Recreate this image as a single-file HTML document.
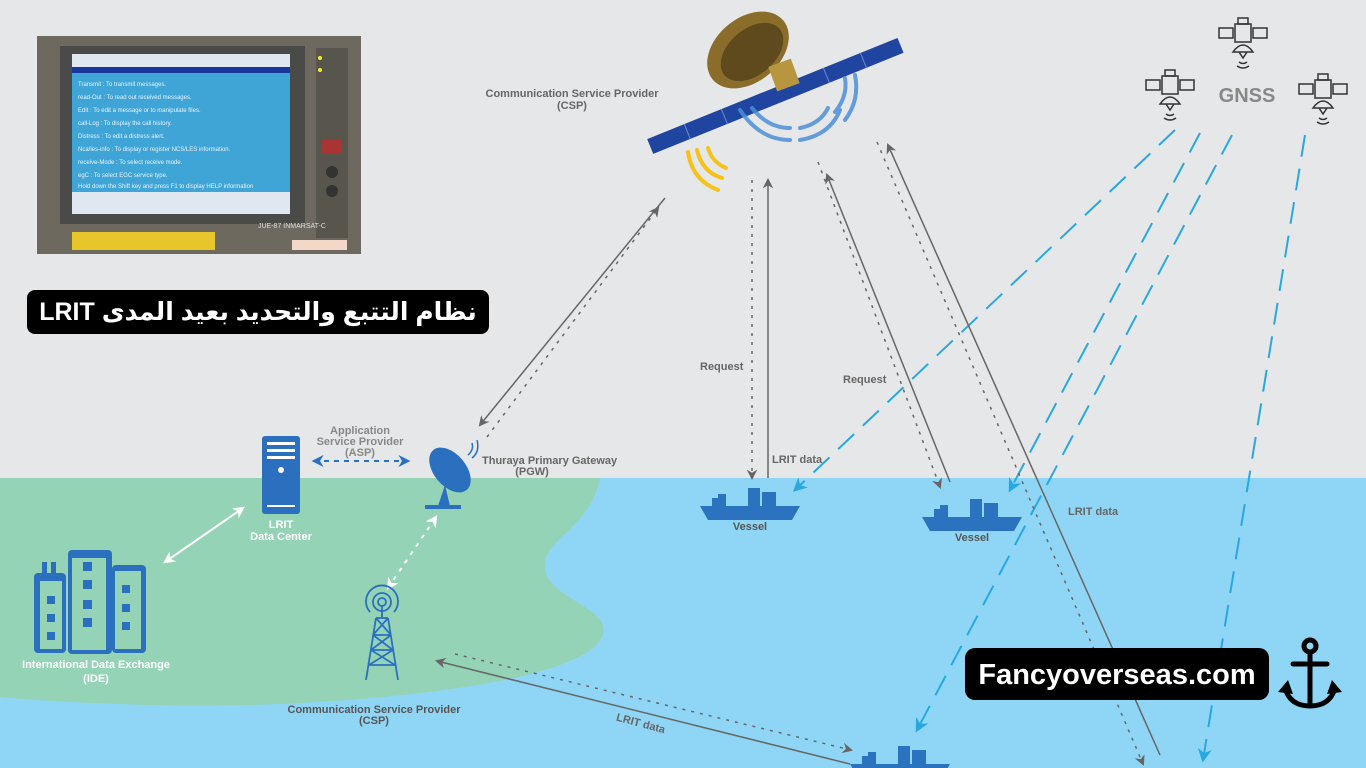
<!DOCTYPE html>
<html><head><meta charset="utf-8"><style>
html,body{margin:0;padding:0;width:1366px;height:768px;overflow:hidden;background:#e6e7e8;position:relative}
svg{display:block}
text{font-family:"Liberation Sans",sans-serif}
#ar{position:absolute;left:27px;top:290px;width:462px;height:44px;background:#000;border-radius:8px;color:#fff;font:bold 25px "Liberation Sans","DejaVu Sans",sans-serif;text-align:center;line-height:44px;white-space:nowrap}
</style></head><body>
<svg width="1366" height="768" viewBox="0 0 1366 768" xmlns="http://www.w3.org/2000/svg">
<defs>
<marker id="ag" viewBox="0 0 10 10" refX="8" refY="5" markerWidth="7" markerHeight="7" orient="auto"><path d="M0,0 L10,5 L0,10 L3,5z" fill="#666"/></marker>
<marker id="ab" viewBox="0 0 10 10" refX="8" refY="5" markerWidth="7" markerHeight="7" orient="auto"><path d="M0,0 L10,5 L0,10 L3,5z" fill="#29a8e0"/></marker>
<marker id="ad" viewBox="0 0 10 10" refX="8" refY="5" markerWidth="6" markerHeight="6" orient="auto-start-reverse"><path d="M0,0 L10,5 L0,10 L3,5z" fill="#2a70c0"/></marker>
<marker id="aw" viewBox="0 0 10 10" refX="8" refY="5" markerWidth="6" markerHeight="6" orient="auto-start-reverse"><path d="M0,0 L10,5 L0,10 L3,5z" fill="#fff"/></marker>
<g id="ship"><path d="M0,12 L100,12 L92,26 L8,26z" fill="#2b72bf"/><rect x="18" y="0" width="8" height="12" fill="#2b72bf"/><rect x="48" y="-6" width="12" height="18" fill="#2b72bf"/><rect x="62" y="-2" width="14" height="14" fill="#2b72bf"/><rect x="12" y="4" width="14" height="8" fill="#2b72bf"/></g>
<g id="gsat" fill="none" stroke="#333" stroke-width="1.5"><rect x="-24" y="-6" width="14" height="10"/><rect x="10" y="-6" width="14" height="10"/><rect x="-8" y="-10" width="16" height="18"/><rect x="-5" y="-16" width="10" height="6"/><path d="M-10,18 Q0,4 10,18z M-4,18 L0,24 L4,18"/><path d="M-4,28 Q0,31 4,28 M-6,32 Q0,36 6,32"/></g>
</defs>
<rect x="0" y="478" width="1366" height="290" fill="#8fd6f6"/>
<path d="M0,478 L600,478 C590,530 540,540 545,570 C550,600 620,610 600,640 C570,690 300,710 150,705 C80,703 30,700 0,697z" fill="#94d3b6"/>

<!-- photo -->
<rect x="37" y="36" width="324" height="218" fill="#6d695e"/>
<rect x="60" y="46" width="245" height="178" fill="#4a4a48"/>
<rect x="72" y="54" width="218" height="160" fill="#3fa4d6"/>
<rect x="72" y="54" width="218" height="14" fill="#dfe8f0"/>
<rect x="72" y="67" width="218" height="6" fill="#17379a"/>
<rect x="72" y="192" width="218" height="22" fill="#dfe8f0"/>
<g fill="#e8f4fb" font-size="6"><text x="78" y="86">Transmit : To transmit messages.</text><text x="78" y="99">read-Out : To read out received messages.</text><text x="78" y="112">Edit : To edit a message or to manipulate files.</text><text x="78" y="125">call-Log : To display the call history.</text><text x="78" y="138">Distress : To edit a distress alert.</text><text x="78" y="151">Nca/les-info : To display or register NCS/LES information.</text><text x="78" y="164">receive-Mode : To select receive mode.</text><text x="78" y="177">egC : To select EGC service type.</text><text x="78" y="188">Hold down the Shift key and press F1 to display HELP information</text></g>
<rect x="316" y="48" width="32" height="190" fill="#57554c"/>
<circle cx="320" cy="58" r="2" fill="#ee3"/><circle cx="320" cy="70" r="2" fill="#ee3"/>
<rect x="322" y="140" width="20" height="14" fill="#a33"/>
<circle cx="332" cy="172" r="6" fill="#333"/><circle cx="332" cy="191" r="6" fill="#333"/>
<rect x="72" y="232" width="143" height="18" fill="#e6c62a"/>
<rect x="292" y="240" width="55" height="10" fill="#f3d8c8"/>
<text x="258" y="228" font-size="7" fill="#ddd">JUE-87 INMARSAT-C</text>

<!-- satellite -->
<g transform="rotate(-22 775 95)">
<rect x="640" y="88" width="270" height="16" fill="#1f45a0"/>
<g stroke="#6a8ad0" stroke-width="1"><line x1="680" y1="88" x2="680" y2="104"/><line x1="720" y1="88" x2="720" y2="104"/><line x1="830" y1="88" x2="830" y2="104"/><line x1="870" y1="88" x2="870" y2="104"/></g>
</g>
<ellipse cx="748" cy="50" rx="46" ry="32" transform="rotate(-40 748 50)" fill="#8a6d2a"/>
<ellipse cx="752" cy="52" rx="36" ry="23" transform="rotate(-40 752 52)" fill="#5e4a1c"/>
<rect x="772" y="62" width="24" height="26" fill="#b89640" transform="rotate(-20 784 75)"/>
<g fill="none" stroke="#4b8fd8" stroke-width="4" stroke-linecap="round" opacity="0.85">
<path d="M740,110 Q760,140 790,140"/><path d="M752,108 Q768,128 790,128"/><path d="M800,140 Q830,135 840,110"/><path d="M800,128 Q820,124 828,108"/><path d="M845,120 Q860,100 855,75"/><path d="M835,112 Q848,96 845,78"/>
</g>
<g fill="none" stroke="#f6c21a" stroke-width="4" stroke-linecap="round">
<path d="M688,152 Q692,180 718,190"/><path d="M697,150 Q702,172 722,178"/><path d="M708,148 Q712,162 726,168"/>
</g>
<text x="572" y="97" font-size="11" font-weight="bold" fill="#666" text-anchor="middle">Communication Service Provider</text>
<text x="572" y="109" font-size="11" font-weight="bold" fill="#666" text-anchor="middle">(CSP)</text>

<!-- GNSS -->
<use href="#gsat" x="1243" y="34"/>
<use href="#gsat" x="1170" y="86"/>
<use href="#gsat" x="1323" y="90"/>
<text x="1247" y="102" font-size="20" font-weight="bold" fill="#888" text-anchor="middle">GNSS</text>

<!-- blue dashed -->
<g stroke="#29a8e0" stroke-width="2" stroke-dasharray="22,12" fill="none" marker-end="url(#ab)">
<line x1="1175" y1="130" x2="795" y2="490"/>
<line x1="1200" y1="133" x2="1010" y2="490"/>
<line x1="1232" y1="135" x2="917" y2="730"/>
<line x1="1305" y1="135" x2="1203" y2="760"/>
</g>

<!-- gray connectors -->
<g stroke="#666" stroke-width="1.5" fill="none">
<line x1="665" y1="198" x2="480" y2="425" marker-end="url(#ag)"/>
<line x1="487" y1="437" x2="658" y2="208" stroke-dasharray="3,6" marker-end="url(#ag)"/>
<line x1="752" y1="180" x2="752" y2="478" stroke-dasharray="3,6" marker-end="url(#ag)"/>
<line x1="768" y1="478" x2="768" y2="180" marker-end="url(#ag)"/>
<line x1="818" y1="162" x2="940" y2="487" stroke-dasharray="3,6" marker-end="url(#ag)"/>
<line x1="950" y1="482" x2="827" y2="175" marker-end="url(#ag)"/>
<line x1="877" y1="142" x2="1143" y2="764" stroke-dasharray="3,6" marker-end="url(#ag)"/>
<line x1="1160" y1="755" x2="888" y2="145" marker-end="url(#ag)"/>
<line x1="850" y1="764" x2="437" y2="661" marker-end="url(#ag)"/>
<line x1="455" y1="654" x2="851" y2="750" stroke-dasharray="3,6" marker-end="url(#ag)"/>
</g>
<g font-size="11" font-weight="bold" fill="#666">
<text x="700" y="370">Request</text>
<text x="843" y="383">Request</text>
<text x="772" y="463">LRIT data</text>
<text x="1068" y="515">LRIT data</text>
<text x="614" y="727" transform="rotate(15 640 730)">LRIT data</text>
</g>

<!-- ships -->
<use href="#ship" x="700" y="494"/>
<text x="750" y="530" font-size="11" font-weight="bold" fill="#555" text-anchor="middle">Vessel</text>
<use href="#ship" x="922" y="505"/>
<text x="972" y="541" font-size="11" font-weight="bold" fill="#555" text-anchor="middle">Vessel</text>
<use href="#ship" x="850" y="752"/>

<!-- land elements -->
<rect x="262" y="436" width="38" height="78" rx="3" fill="#2b6fbf"/>
<g fill="#fff"><rect x="267" y="442" width="28" height="3"/><rect x="267" y="449" width="28" height="3"/><rect x="267" y="456" width="28" height="3"/><circle cx="281" cy="470" r="3"/><rect x="267" y="505" width="28" height="2"/></g>
<text x="281" y="528" font-size="11" font-weight="bold" fill="#fff" text-anchor="middle">LRIT</text>
<text x="281" y="540" font-size="11" font-weight="bold" fill="#fff" text-anchor="middle">Data Center</text>
<line x1="165" y1="562" x2="243" y2="508" stroke="#fff" stroke-width="2" marker-start="url(#aw)" marker-end="url(#aw)"/>
<line x1="314" y1="461" x2="408" y2="461" stroke="#2a70c0" stroke-width="2" stroke-dasharray="5,5" marker-start="url(#ad)" marker-end="url(#ad)"/>
<text x="360" y="434" font-size="11" font-weight="bold" fill="#888" text-anchor="middle">Application</text>
<text x="360" y="445" font-size="11" font-weight="bold" fill="#888" text-anchor="middle">Service Provider</text>
<text x="360" y="456" font-size="11" font-weight="bold" fill="#888" text-anchor="middle">(ASP)</text>
<!-- dish -->
<ellipse cx="450" cy="470" rx="16" ry="26" transform="rotate(-40 450 470)" fill="#2b6fbf"/>
<path d="M445,485 L438,506 L450,506z" fill="#2b6fbf"/><rect x="425" y="505" width="36" height="4" fill="#2b6fbf"/>
<path d="M468,455 Q474,450 472,443 M472,458 Q480,452 477,440" stroke="#2b6fbf" stroke-width="1.5" fill="none"/>
<text x="482" y="464" font-size="11" font-weight="bold" fill="#666">Thuraya Primary Gateway</text>
<text x="532" y="475" font-size="11" font-weight="bold" fill="#666" text-anchor="middle">(PGW)</text>
<line x1="388" y1="588" x2="436" y2="517" stroke="#fff" stroke-width="2" stroke-dasharray="4,6" marker-start="url(#aw)" marker-end="url(#aw)"/>
<!-- building -->
<g fill="#2b6fbf"><rect x="34" y="573" width="32" height="80" rx="4"/><rect x="68" y="550" width="44" height="104" rx="4"/><rect x="112" y="565" width="34" height="88" rx="4"/><rect x="42" y="562" width="5" height="12"/><rect x="51" y="562" width="5" height="12"/></g>
<g fill="#94d3b6"><rect x="72" y="558" width="34" height="92"/><rect x="40" y="581" width="22" height="68"/><rect x="115" y="571" width="26" height="78"/></g>
<g fill="#2b6fbf"><rect x="83" y="562" width="9" height="9"/><rect x="83" y="580" width="9" height="9"/><rect x="83" y="600" width="9" height="9"/><rect x="83" y="618" width="9" height="9"/><rect x="47" y="596" width="8" height="8"/><rect x="47" y="614" width="8" height="8"/><rect x="47" y="632" width="8" height="8"/><rect x="122" y="585" width="8" height="8"/><rect x="122" y="604" width="8" height="8"/><rect x="122" y="622" width="8" height="8"/></g>
<text x="96" y="668" font-size="11" font-weight="bold" fill="#fff" text-anchor="middle">International Data Exchange</text>
<text x="96" y="682" font-size="11" font-weight="bold" fill="#fff" text-anchor="middle">(IDE)</text>
<!-- tower -->
<g stroke="#2b6fbf" stroke-width="1.8" fill="none">
<circle cx="382" cy="602" r="4"/><circle cx="382" cy="602" r="9"/><path d="M370,612 A16,16 0 1 1 394,612"/>
<path d="M376,618 L366,680 M388,618 L398,680 M376,618 L388,618 M373,635 L391,635 M371,650 L393,650 M369,665 L395,665 M373,635 L393,650 M391,635 L371,650 M371,650 L395,665 M393,650 L369,665 M376,618 L391,635 M388,618 L373,635 M382,606 L382,618"/>
</g>
<text x="374" y="713" font-size="11" font-weight="bold" fill="#555" text-anchor="middle">Communication Service Provider</text>
<text x="374" y="724" font-size="11" font-weight="bold" fill="#555" text-anchor="middle">(CSP)</text>

<!-- fancyoverseas -->
<rect x="965" y="648" width="304" height="52" rx="10" fill="#000"/>
<text x="1117" y="684" font-size="29" font-weight="bold" fill="#fff" text-anchor="middle">Fancyoverseas.com</text>
<g stroke="#000" stroke-width="5" fill="none" stroke-linecap="round">
<circle cx="1310" cy="646" r="6"/><line x1="1310" y1="652" x2="1310" y2="704"/><line x1="1293" y1="664" x2="1327" y2="664"/>
<path d="M1285,688 Q1290,706 1310,706 Q1330,706 1335,688"/>
</g>
<path d="M1278,692 L1288,680 L1293,694z M1342,692 L1332,680 L1327,694z" fill="#000"/>
</svg>
<div id="ar" dir="rtl">نظام التتبع والتحديد بعيد المدى LRIT</div>
</body></html>
